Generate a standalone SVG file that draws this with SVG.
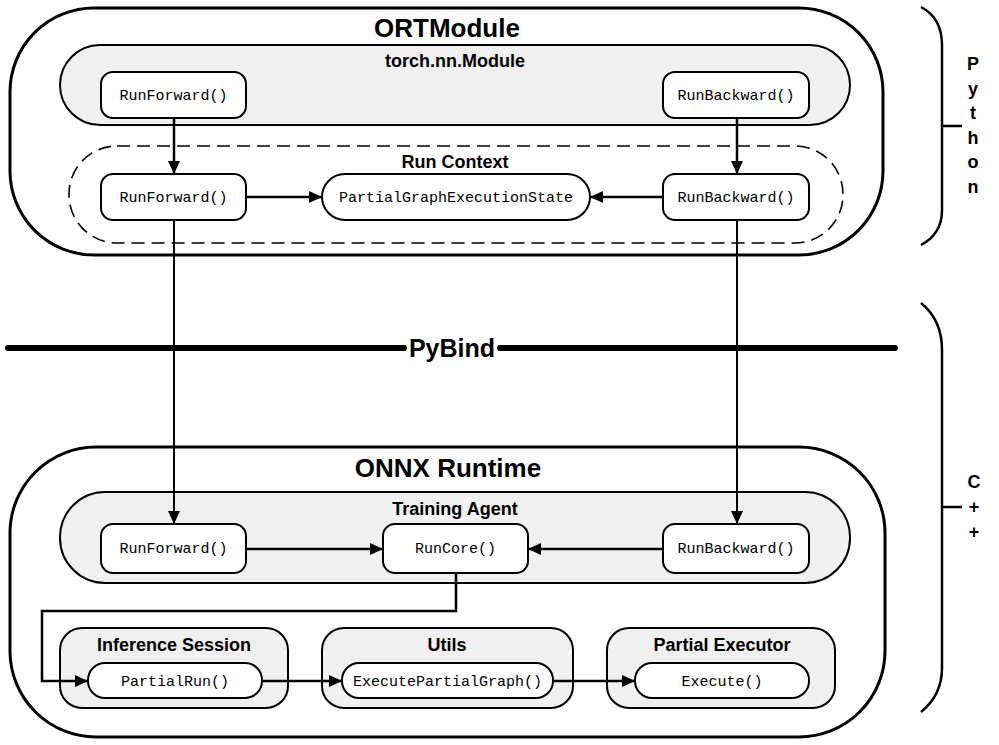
<svg xmlns="http://www.w3.org/2000/svg" width="999" height="745" viewBox="0 0 999 745">
<style>
.outer{fill:#fff;stroke:#000;stroke-width:3}
.group{fill:#f0f0f0;stroke:#000;stroke-width:2}
.dash{fill:none;stroke:#000;stroke-width:1.6;stroke-dasharray:13 7}
.node{fill:#fff;stroke:#000;stroke-width:2}
.mono{font-family:"Liberation Mono","Courier New",monospace;font-size:15px;fill:#000;text-anchor:middle}
.title{font-family:"Liberation Sans",Arial,sans-serif;font-weight:bold;font-size:26px;text-anchor:middle}
.sub{font-family:"Liberation Sans",Arial,sans-serif;font-weight:bold;font-size:18px;text-anchor:middle}
.side{font-family:"Liberation Sans",Arial,sans-serif;font-weight:bold;font-size:18px;text-anchor:middle}
.conn{fill:none;stroke:#000;stroke-width:2.5}
.thin{fill:none;stroke:#000;stroke-width:2}
.brace{fill:none;stroke:#000;stroke-width:2.5}
</style>
<defs>
<marker id="ah" markerUnits="userSpaceOnUse" markerWidth="13" markerHeight="12" refX="13" refY="6" orient="auto">
<path d="M0,0 L13,6 L0,12 z" fill="#000"/>
</marker>
</defs>

<g id="ortmodule">
<rect class="outer" x="10" y="8" width="873" height="247" rx="84"/>
<text class="title" x="447" y="37">ORTModule</text>
</g>
<g id="torch-module">
<rect class="group" x="60" y="45" width="790" height="80" rx="40"/>
<text class="sub" x="455" y="67">torch.nn.Module</text>
</g>
<g id="run-context">
<rect class="dash" x="69" y="146" width="774" height="97" rx="48"/>
<text class="sub" x="455" y="168">Run Context</text>
</g>
<g id="py-runforward">
<rect class="node" x="101" y="72" width="145" height="46" rx="12"/>
<text class="mono" x="173.5" y="100">RunForward()</text>
</g>
<g id="py-runbackward">
<rect class="node" x="663" y="72" width="146" height="46" rx="12"/>
<text class="mono" x="736" y="100">RunBackward()</text>
</g>
<g id="ctx-runforward">
<rect class="node" x="101" y="174" width="145" height="46" rx="12"/>
<text class="mono" x="173.5" y="202">RunForward()</text>
</g>
<g id="ctx-state">
<rect class="node" x="322" y="174" width="268" height="46" rx="23"/>
<text class="mono" x="456" y="202">PartialGraphExecutionState</text>
</g>
<g id="ctx-runbackward">
<rect class="node" x="663" y="174" width="146" height="46" rx="12"/>
<text class="mono" x="736" y="202">RunBackward()</text>
</g>

<g id="onnx-runtime">
<rect class="outer" x="10" y="447" width="875" height="290" rx="86"/>
<text class="title" x="448" y="477">ONNX Runtime</text>
</g>
<g id="training-agent">
<rect class="group" x="60" y="492" width="790" height="91" rx="45"/>
<text class="side" x="455" y="515">Training Agent</text>
</g>
<g id="ta-runforward">
<rect class="node" x="101" y="524" width="145" height="49" rx="12"/>
<text class="mono" x="173.5" y="553">RunForward()</text>
</g>
<g id="ta-runcore">
<rect class="node" x="383" y="524" width="145" height="49" rx="12"/>
<text class="mono" x="455.5" y="553">RunCore()</text>
</g>
<g id="ta-runbackward">
<rect class="node" x="663" y="524" width="146" height="49" rx="12"/>
<text class="mono" x="736" y="553">RunBackward()</text>
</g>
<g id="inference-session">
<rect class="group" x="60" y="628" width="228" height="80" rx="22"/>
<text class="side" x="174" y="651">Inference Session</text>
<rect class="node" x="88" y="663" width="174" height="35" rx="17"/>
<text class="mono" x="175" y="686">PartialRun()</text>
</g>
<g id="utils">
<rect class="group" x="322" y="628" width="251" height="80" rx="22"/>
<text class="side" x="447" y="651">Utils</text>
<rect class="node" x="342" y="663" width="211" height="35" rx="17"/>
<text class="mono" x="447.5" y="686">ExecutePartialGraph()</text>
</g>
<g id="partial-executor">
<rect class="group" x="607" y="628" width="228" height="80" rx="22"/>
<text class="side" x="722" y="651">Partial Executor</text>
<rect class="node" x="635" y="663" width="174" height="35" rx="17"/>
<text class="mono" x="722" y="686">Execute()</text>
</g>

<g id="pybind">
<line x1="8" y1="348" x2="404" y2="348" stroke="#000" stroke-width="6" stroke-linecap="round"/>
<line x1="500" y1="348" x2="895" y2="348" stroke="#000" stroke-width="6" stroke-linecap="round"/>
<text x="452" y="357" font-family="Liberation Sans,Arial,sans-serif" font-weight="bold" font-size="25" text-anchor="middle">PyBind</text>
</g>

<g id="python-brace">
<path class="brace" d="M921,7 Q942,18 942,45 L942,210 Q942,234 921,245"/>
<line class="brace" x1="942" y1="126" x2="962" y2="126"/>
<text class="side" x="973" y="70">P</text>
<text class="side" x="973" y="94.5">y</text>
<text class="side" x="973" y="119">t</text>
<text class="side" x="973" y="143.5">h</text>
<text class="side" x="973" y="168">o</text>
<text class="side" x="973" y="193">n</text>
</g>
<g id="cpp-brace">
<path class="brace" d="M921,303 Q942,320 942,350 L942,668 Q942,695 921,712"/>
<line class="brace" x1="942" y1="507" x2="962" y2="507"/>
<text class="side" x="974" y="488">C</text>
<text class="side" x="974" y="513">+</text>
<text class="side" x="974" y="538">+</text>
</g>

<g id="connectors">
<line class="conn" x1="174" y1="118" x2="174" y2="174" marker-end="url(#ah)"/>
<line class="conn" x1="737" y1="118" x2="737" y2="174" marker-end="url(#ah)"/>
<line class="conn" x1="246" y1="197" x2="322" y2="197" marker-end="url(#ah)"/>
<line class="conn" x1="663" y1="197" x2="590" y2="197" marker-end="url(#ah)"/>
<line class="thin" x1="174" y1="220" x2="174" y2="524" marker-end="url(#ah)"/>
<line class="thin" x1="737" y1="220" x2="737" y2="524" marker-end="url(#ah)"/>
<line class="conn" x1="246" y1="549" x2="383" y2="549" marker-end="url(#ah)"/>
<line class="conn" x1="663" y1="549" x2="528" y2="549" marker-end="url(#ah)"/>
<path class="conn" d="M456,573 L456,611 L42,611 L42,681 L88,681" marker-end="url(#ah)"/>
<line class="conn" x1="262" y1="681" x2="342" y2="681" marker-end="url(#ah)"/>
<line class="conn" x1="553" y1="681" x2="635" y2="681" marker-end="url(#ah)"/>
</g>
</svg>
